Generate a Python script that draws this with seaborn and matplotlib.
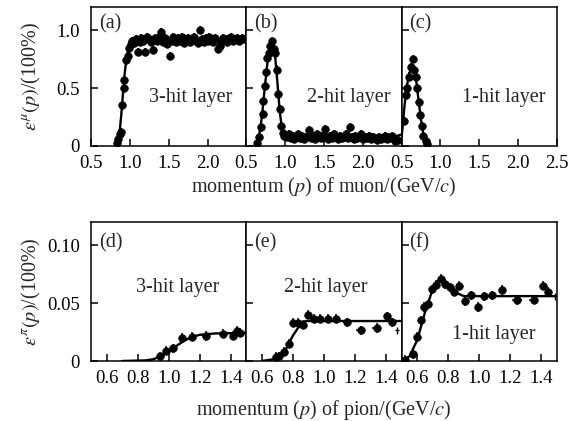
import numpy as np
import pandas as pd
import matplotlib
matplotlib.use("Agg")
import matplotlib.pyplot as plt
import seaborn as sns

# ---------------- data ----------------
# (a) muon, 3-hit layer
a_x = [0.83, 0.85, 0.87, 0.88, 0.90, 0.92, 0.93, 0.95, 0.97, 0.99, 1.01, 1.03,
       1.050, 1.075, 1.100, 1.125, 1.150, 1.175, 1.200, 1.225, 1.250, 1.275,
       1.300, 1.325, 1.350, 1.375, 1.400, 1.425, 1.450, 1.475, 1.515, 1.540,
       1.560, 1.580, 1.600, 1.625, 1.650, 1.675, 1.700, 1.725, 1.750, 1.775,
       1.800, 1.825, 1.850, 1.875, 1.905, 1.925, 1.950, 1.975, 2.000, 2.025,
       2.050, 2.075, 2.100, 2.135, 2.155, 2.175, 2.200, 2.225, 2.250, 2.275,
       2.300, 2.325, 2.350, 2.375, 2.400, 2.425, 2.450, 2.475]
a_y = [0.03, 0.06, 0.10, 0.12, 0.35, 0.50, 0.57, 0.74, 0.78, 0.85, 0.88, 0.91,
       0.89, 0.92, 0.81, 0.90, 0.93, 0.91, 0.81, 0.94, 0.92, 0.90,
       0.83, 0.93, 0.91, 0.94, 0.98, 0.90, 0.93, 0.88, 0.78, 0.91,
       0.94, 0.92, 0.90, 0.93, 0.91, 0.94, 0.89, 0.92, 0.93, 0.90,
       0.92, 0.94, 0.91, 0.89, 1.00, 0.92, 0.90, 0.93, 0.91, 0.94,
       0.92, 0.90, 0.93, 0.84, 0.86, 0.91, 0.93, 0.92, 0.90, 0.93,
       0.94, 0.91, 0.92, 0.93, 0.91, 0.92, 0.93, 0.92]
a_fit_x = [0.82, 0.85, 0.87, 0.89, 0.91, 0.93, 0.95, 0.97, 0.99, 1.01, 1.04, 1.10, 1.30, 2.50]
a_fit_y = [0.00, 0.05, 0.13, 0.27, 0.44, 0.60, 0.72, 0.80, 0.85, 0.88, 0.895, 0.905, 0.91, 0.915]

# (b) muon, 2-hit layer
b_x = [0.64, 0.66, 0.69, 0.71, 0.72, 0.74, 0.75, 0.77, 0.79, 0.81, 0.83, 0.85,
       0.87, 0.89, 0.91, 0.93, 0.95, 0.97, 0.99,
       1.020, 1.045, 1.070, 1.095, 1.120, 1.145, 1.170, 1.195, 1.220, 1.245,
       1.270, 1.310, 1.330, 1.355, 1.380, 1.405, 1.430, 1.455, 1.480, 1.510,
       1.530, 1.555, 1.580, 1.605, 1.630, 1.655, 1.680, 1.705, 1.730, 1.755,
       1.780, 1.805, 1.830, 1.855, 1.880, 1.905, 1.930, 1.955, 1.980, 2.005,
       2.030, 2.055, 2.080, 2.105, 2.130, 2.155, 2.180, 2.205, 2.230, 2.255,
       2.280, 2.305, 2.330, 2.355, 2.380, 2.420, 2.450]
b_y = [0.03, 0.08, 0.16, 0.28, 0.39, 0.52, 0.64, 0.76, 0.80, 0.86, 0.91, 0.84,
       0.80, 0.66, 0.45, 0.32, 0.17, 0.11, 0.09,
       0.08, 0.10, 0.07, 0.09, 0.06, 0.08, 0.10, 0.07, 0.09, 0.06,
       0.08, 0.14, 0.07, 0.09, 0.06, 0.10, 0.08, 0.07, 0.09, 0.15,
       0.08, 0.06, 0.09, 0.07, 0.10, 0.08, 0.06, 0.09, 0.07, 0.08,
       0.10, 0.07, 0.16, 0.08, 0.06, 0.09, 0.07, 0.08, 0.10, 0.06,
       0.08, 0.07, 0.09, 0.06, 0.08, 0.07, 0.05, 0.08, 0.06, 0.07,
       0.09, 0.06, 0.08, 0.07, 0.09, 0.04, 0.05]
b_fit_x = [0.62, 0.66, 0.70, 0.74, 0.78, 0.81, 0.83, 0.85, 0.87, 0.90, 0.93, 0.96, 1.00, 1.10, 2.38, 2.50]
b_fit_y = [0.00, 0.07, 0.25, 0.52, 0.77, 0.87, 0.89, 0.86, 0.78, 0.55, 0.30, 0.14, 0.09, 0.075, 0.075, 0.10]

# (c) muon, 1-hit layer
c_x = [0.53, 0.55, 0.57, 0.59, 0.62, 0.64, 0.66, 0.68, 0.70, 0.72, 0.74, 0.76, 0.78, 0.81, 0.83]
c_y = [0.22, 0.44, 0.50, 0.60, 0.68, 0.75, 0.66, 0.60, 0.50, 0.38, 0.27, 0.17, 0.09, 0.04, 0.02]
c_fit_x = [0.50, 0.53, 0.56, 0.60, 0.63, 0.66, 0.69, 0.72, 0.75, 0.78, 0.81, 0.84]
c_fit_y = [0.08, 0.30, 0.50, 0.63, 0.68, 0.66, 0.55, 0.38, 0.22, 0.10, 0.03, 0.00]

# (d) pion, 3-hit layer
d_x = [0.945, 0.983, 1.028, 1.087, 1.150, 1.242, 1.350, 1.412, 1.442, 1.458]
d_y = [0.004, 0.009, 0.011, 0.020, 0.021, 0.0215, 0.0235, 0.0218, 0.026, 0.0245]
d_xe = [0.010, 0.010, 0.012, 0.015, 0.020, 0.025, 0.025, 0.010, 0.010, 0.010]
d_fit_x = [0.70, 0.85, 0.90, 0.95, 1.00, 1.05, 1.10, 1.15, 1.20, 1.30, 1.50]
d_fit_y = [0.0, 0.0005, 0.0015, 0.004, 0.008, 0.013, 0.0175, 0.0208, 0.0226, 0.0238, 0.0242]

# (e) pion, 2-hit layer
e_x = [0.690, 0.710, 0.740, 0.775, 0.800, 0.833, 0.866, 0.898, 0.937, 0.977,
       1.023, 1.076, 1.145, 1.235, 1.339, 1.403, 1.435]
e_y = [0.0035, 0.004, 0.008, 0.015, 0.033, 0.033, 0.0315, 0.040, 0.0365, 0.0365,
       0.0365, 0.0365, 0.0335, 0.0265, 0.0285, 0.0385, 0.0335]
e_xe = [0.010, 0.010, 0.010, 0.010, 0.010, 0.010, 0.010, 0.010, 0.012, 0.012,
        0.012, 0.015, 0.020, 0.030, 0.030, 0.010, 0.010]
e_fit_x = [0.60, 0.70, 0.75, 0.80, 0.85, 0.88, 1.50]
e_fit_y = [0.0, 0.002, 0.009, 0.022, 0.032, 0.0345, 0.0345]

# (f) pion, 1-hit layer
f_x = [0.520, 0.575, 0.597, 0.623, 0.646, 0.672, 0.698, 0.721, 0.752, 0.780,
       0.812, 0.840, 0.870, 0.909, 0.945, 0.990, 1.027, 1.080, 1.149, 1.242,
       1.350, 1.410, 1.442]
f_y = [0.001, 0.0057, 0.021, 0.035, 0.0466, 0.049, 0.062, 0.066, 0.071, 0.0665,
       0.0635, 0.060, 0.065, 0.0517, 0.0566, 0.0466, 0.0557, 0.0566, 0.0614, 0.0523,
       0.0529, 0.065, 0.060]
f_xe = [0.010, 0.010, 0.010, 0.010, 0.010, 0.010, 0.010, 0.010, 0.010, 0.010,
        0.010, 0.010, 0.012, 0.012, 0.012, 0.012, 0.015, 0.020, 0.020, 0.030,
        0.030, 0.010, 0.010]
f_fit_x = [0.50, 0.55, 0.60, 0.65, 0.70, 0.73, 0.76, 0.80, 0.85, 0.90, 1.50]
f_fit_y = [0.0, 0.004, 0.018, 0.042, 0.062, 0.069, 0.0705, 0.066, 0.059, 0.056, 0.056]

# crosses (points without marker) at panel ends
end_x = [1.49, 1.47, 1.49]
end_y = [0.0245, 0.0265, 0.056]

top_xticks = [0.5, 1.0, 1.5, 2.0]
top_xticks_last = [0.5, 1.0, 1.5, 2.0, 2.5]
top_yticks = [0.0, 0.5, 1.0]
top_ylabels = ["0", "0.5", "1.0"]
bot_xticks = [0.6, 0.8, 1.0, 1.2, 1.4]
bot_yticks = [0.0, 0.05, 0.10]
bot_ylabels = ["0", "0.05", "0.10"]

panel_tags = ["(a)", "(b)", "(c)", "(d)", "(e)", "(f)"]
layer_names = ["3-hit layer", "2-hit layer", "1-hit layer",
               "3-hit layer", "2-hit layer", "1-hit layer"]

# ---------------- figure ----------------
sns.set_theme(style="ticks")
plt.rcParams['font.family'] = ['Liberation Serif', 'DejaVu Serif']
plt.rcParams['mathtext.fontset'] = 'stix'

fig = plt.figure(figsize=(5.85, 4.21), dpi=100)
L, R = 91 / 585, 557 / 585
W = (R - L) / 3
top_b, top_h = 1 - 146 / 421, 139 / 421
bot_b, bot_h = 1 - 361 / 421, 139 / 421

axes_top = [fig.add_axes([L + i * W, top_b, W, top_h]) for i in range(3)]
axes_bot = [fig.add_axes([L + i * W, bot_b, W, bot_h]) for i in range(3)]

top_data = [(a_x, a_y, a_fit_x, a_fit_y), (b_x, b_y, b_fit_x, b_fit_y), (c_x, c_y, c_fit_x, c_fit_y)]
bot_data = [(d_x, d_y, d_xe, d_fit_x, d_fit_y), (e_x, e_y, e_xe, e_fit_x, e_fit_y),
            (f_x, f_y, f_xe, f_fit_x, f_fit_y)]

FS_TICK = 13.5
FS_TXT = 14.5

def style(ax):
    for s in ax.spines.values():
        s.set_linewidth(1.1)
        s.set_color('black')
    ax.tick_params(direction='in', length=5, width=1.1, top=False, right=False,
                   labelsize=FS_TICK, colors='black')
    ax.tick_params(axis='x', pad=6.5)
    ax.tick_params(axis='y', pad=8)

for i, ax in enumerate(axes_top):
    x, y, fx, fy = top_data[i]
    ax.errorbar(x, y, yerr=0.035, xerr=0.01, fmt='none', ecolor='black', elinewidth=1.1)
    df = pd.DataFrame({'x': x, 'y': y})
    sns.scatterplot(data=df, x='x', y='y', ax=ax, color='black', s=30, edgecolor='black',
                    linewidth=0.5, zorder=3)
    fdf = pd.DataFrame({'x': fx, 'y': fy})
    sns.lineplot(data=fdf, x='x', y='y', ax=ax, color='black', lw=1.7, sort=False,
                 estimator=None, zorder=4)
    ax.set_xlim(0.5, 2.5)
    ax.set_ylim(0, 1.2)
    ax.set_xticks(top_xticks_last if i == 2 else top_xticks)
    ax.set_xticklabels([f"{t:.1f}" for t in (top_xticks_last if i == 2 else top_xticks)])
    ax.set_yticks(top_yticks)
    ax.set_yticklabels(top_ylabels if i == 0 else [])
    ax.set_xlabel('')
    ax.set_ylabel('')
    style(ax)
    ax.text(0.05, 0.88, panel_tags[i], transform=ax.transAxes, fontsize=FS_TXT,
            ha='left', va='center')
    ax.text(0.64 if i == 0 else 0.66, 0.35, layer_names[i], transform=ax.transAxes,
            fontsize=FS_TXT, ha='center', va='center')

for i, ax in enumerate(axes_bot):
    x, y, xe, fx, fy = bot_data[i]
    ax.errorbar(x, y, yerr=0.004, xerr=xe, fmt='none', ecolor='black', elinewidth=1.1)
    ax.errorbar([end_x[i]], [end_y[i]], yerr=0.003, xerr=0.012, fmt='none',
                ecolor='black', elinewidth=1.0)
    df = pd.DataFrame({'x': x, 'y': y})
    sns.scatterplot(data=df, x='x', y='y', ax=ax, color='black', s=30, edgecolor='black',
                    linewidth=0.5, zorder=3)
    fdf = pd.DataFrame({'x': fx, 'y': fy})
    sns.lineplot(data=fdf, x='x', y='y', ax=ax, color='black', lw=1.7, sort=False,
                 estimator=None, zorder=4)
    ax.set_xlim(0.5, 1.5)
    ax.set_ylim(0, 0.12)
    ax.set_xticks(bot_xticks)
    ax.set_xticklabels([f"{t:.1f}" for t in bot_xticks])
    ax.set_yticks(bot_yticks)
    ax.set_yticklabels(bot_ylabels if i == 0 else [])
    ax.set_xlabel('')
    ax.set_ylabel('')
    style(ax)
    ax.text(0.05, 0.85, panel_tags[3 + i], transform=ax.transAxes, fontsize=FS_TXT,
            ha='left', va='center')
    pos = [(0.56, 0.53), (0.51, 0.53), (0.59, 0.19)][i]
    ax.text(pos[0], pos[1], layer_names[3 + i], transform=ax.transAxes,
            fontsize=FS_TXT, ha='center', va='center')

xc = (L + R) / 2
fig.text(xc, 1 - 187 / 421, r"momentum ($p$) of muon/(GeV/$c$)", fontsize=FS_TXT,
         ha='center', va='center')
fig.text(xc, 1 - 410 / 421, r"momentum ($p$) of pion/(GeV/$c$)", fontsize=FS_TXT,
         ha='center', va='center')
fig.text(31 / 585, top_b + top_h / 2, r"$\varepsilon^{\mu}(p)$/(100%)", fontsize=FS_TXT,
         rotation=90, ha='center', va='center')
fig.text(31 / 585, bot_b + bot_h / 2, r"$\varepsilon^{\pi}(p)$/(100%)", fontsize=FS_TXT,
         rotation=90, ha='center', va='center')

fig.savefig("out.png", dpi=100)
